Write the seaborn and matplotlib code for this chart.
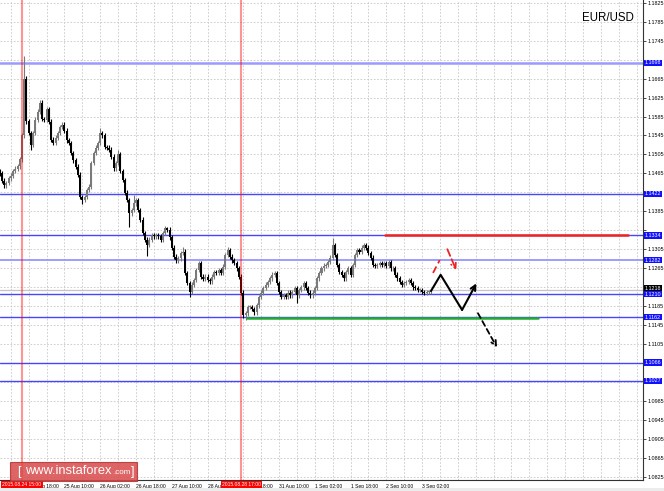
import numpy as np
import pandas as pd
import matplotlib
matplotlib.use("Agg")
import matplotlib.pyplot as plt
from matplotlib.patches import Rectangle
from matplotlib.transforms import blended_transform_factory
import seaborn as sns

# ---------------- data (hourly EUR/USD, 24 Aug 05:00 .. 3 Sep 06:00) ----------------
closes = [
    1.1465, 1.1450, 1.1440, 1.1445, 1.1455, 1.1460, 1.1470, 1.1475, 1.1480, 1.1495,
    1.1545, 1.1665, 1.1575, 1.1550, 1.1525, 1.1550, 1.1578, 1.1595, 1.1614, 1.1580,
    1.1578, 1.1600, 1.1574, 1.1536, 1.1530, 1.1540, 1.1550, 1.1563, 1.1568, 1.1555,
    1.1535, 1.1529, 1.1508, 1.1493, 1.1479, 1.1462, 1.1415, 1.1409, 1.1415, 1.1430,
    1.1437, 1.1487, 1.1508, 1.1519, 1.1529, 1.1550, 1.1545, 1.1521, 1.1519, 1.1515,
    1.1500, 1.1476, 1.1487, 1.1505, 1.1470, 1.1451, 1.1424, 1.1409, 1.1381, 1.1388,
    1.1402, 1.1409, 1.1388, 1.1367, 1.1339, 1.1325, 1.1314, 1.1325, 1.1335, 1.1332,
    1.1335, 1.1332, 1.1325, 1.1339, 1.1350, 1.1346, 1.1330, 1.1308, 1.1289, 1.1282,
    1.1286, 1.1297, 1.1300, 1.1255, 1.1234, 1.1215, 1.1230, 1.1240, 1.1261, 1.1276,
    1.1247, 1.1243, 1.1247, 1.1240, 1.1237, 1.1247, 1.1257, 1.1255, 1.1261, 1.1255,
    1.1268, 1.1293, 1.1303, 1.1289, 1.1282, 1.1276, 1.1265, 1.1247, 1.1213, 1.1166,
    1.1170, 1.1183, 1.1183, 1.1179, 1.1172, 1.1187, 1.1204, 1.1213, 1.1223, 1.1230,
    1.1236, 1.1244, 1.1251, 1.1255, 1.1234, 1.1215, 1.1204, 1.1208, 1.1204, 1.1213,
    1.1208, 1.1215, 1.1223, 1.1208, 1.1219, 1.1225, 1.1234, 1.1223, 1.1213, 1.1208,
    1.1213, 1.1223, 1.1244, 1.1255, 1.1265, 1.1270, 1.1272, 1.1278, 1.1287, 1.1314,
    1.1293, 1.1272, 1.1257, 1.1251, 1.1244, 1.1257, 1.1265, 1.1251, 1.1272, 1.1293,
    1.1303, 1.1300, 1.1308, 1.1314, 1.1308, 1.1297, 1.1287, 1.1272, 1.1270, 1.1272,
    1.1276, 1.1272, 1.1276, 1.1270, 1.1278, 1.1265, 1.1265, 1.1251, 1.1244, 1.1236,
    1.1230, 1.1234, 1.1236, 1.1240, 1.1234, 1.1225, 1.1223, 1.1219, 1.1219, 1.1215,
    1.1213, 1.1215, 1.1215, 1.1217,
]
first_open = 1.1470
high_marks = {11: 1.1712, 18: 1.1620, 45: 1.1560, 53: 1.1514, 60: 1.1420, 75: 1.1352,
              82: 1.1310, 89: 1.1280, 102: 1.1310, 123: 1.1260, 149: 1.1329, 163: 1.1318}
low_marks = {14: 1.1515, 37: 1.1400, 58: 1.1352, 66: 1.1290, 85: 1.1205, 109: 1.1160,
             110: 1.1156, 133: 1.1192}
default_wick = 0.0005

levels = [1.1698, 1.1422, 1.1334, 1.1282, 1.1210, 1.1162, 1.1066, 1.1027]
level_styles = {1.1698: ("#9a9aff", 1.8), 1.1282: ("#8c8cff", 1.2)}
bid_price = 1.1218

x_tick_bars = [13, 29, 45, 61, 77, 93, 109, 125, 141, 157, 173, 189]
x_tick_text = ["24 Aug 18:00", "25 Aug 10:00", "26 Aug 02:00", "26 Aug 18:00",
               "27 Aug 10:00", "28 Aug 02:00", "28 Aug 18:00", "31 Aug 10:00",
               "1 Sep 02:00", "1 Sep 18:00", "2 Sep 10:00", "3 Sep 02:00"]
vline_bars = [10, 108]
vline_text = ["2015.08.24 15:00", "2015.08.28 17:00"]

resistance = {"x": [172.4, 281.0], "y": 1.1334}
support = {"x": [110.7, 240.9], "y": 1.1160}
black_path_x = [193.0, 197.3, 206.9]
black_path_y = [1.1217, 1.1251, 1.1177]
black_arrow_end = (213.3, 1.1233)
black_dash_start = (214.0, 1.1170)
black_dash_end = (222.5, 1.1098)
red_seg_x = [193.9, 196.9]
red_seg_y = [1.1255, 1.1282]
red_arrow_start = (200.3, 1.1305)
red_arrow_end = (204.3, 1.1261)

# ---------------- table ----------------
n = len(closes)
df = pd.DataFrame({"bar": np.arange(n), "close": closes})
df["open"] = [first_open] + closes[:-1]
df["top"] = df[["open", "close"]].max(axis=1)
df["bot"] = df[["open", "close"]].min(axis=1)
df["high"] = [high_marks.get(i, t + default_wick) for i, t in enumerate(df["top"])]
df["low"] = [low_marks.get(i, b - default_wick) for i, b in enumerate(df["bot"])]
df["bull"] = df["close"] >= df["open"]

# ---------------- figure ----------------
sns.set_style("white")
plt.rcParams["font.family"] = ["Liberation Sans", "DejaVu Sans"]
W, H = 664, 491
fig = plt.figure(figsize=(W / 100, H / 100), dpi=100)
fig.patch.set_facecolor("white")
ax = fig.add_axes([0, 11 / H, 643 / W, 480 / H])
ax.set_xlim(0.15, 287.85)
ax.set_ylim(1.08181, 1.18309)

# grid
yticks = np.round(np.arange(1.0825, 1.18251, 0.004), 4)
for yv in yticks:
    ax.axhline(yv, color="#c8c8c8", lw=0.6, ls=(0, (2, 2)), zorder=0)
for xv in range(5, 288, 8):
    ax.axvline(xv, color="#c8c8c8", lw=0.6, ls=(0, (2, 2)), zorder=0)

# levels
for lv in levels:
    col, lw = level_styles.get(lv, ("#4646ff", 1.0))
    ax.axhline(lv, color=col, lw=lw, zorder=1)
ax.axhline(bid_price, color="#c4c4c4", lw=0.9, zorder=1)

# support / resistance segments
sns.lineplot(x=resistance["x"], y=[resistance["y"]] * 2, ax=ax, color="#ee2222", lw=1.8, zorder=4)
sns.lineplot(x=support["x"], y=[support["y"]] * 2, ax=ax, color="#22aa33", lw=1.8, zorder=4)

# candles
colors = np.where(df["bull"], "#7a7a7a", "#000000")
ax.vlines(df["bar"], df["low"], df["high"], colors=colors, lw=0.8, zorder=3)
ax.bar(df["bar"], (df["top"] - df["bot"]).clip(lower=0.00012), bottom=df["bot"],
       width=0.9, color=colors, linewidth=0, zorder=3)

# red vertical lines (drawn over candles)
for b in vline_bars:
    ax.axvline(b, color="#ff0000", alpha=0.42, lw=1.5, zorder=5)

# forecast arrows
sns.lineplot(x=black_path_x, y=black_path_y, ax=ax, sort=False, color="black", lw=1.5, zorder=6)
ax.annotate("", xy=black_arrow_end, xytext=(black_path_x[-1], black_path_y[-1]),
            arrowprops=dict(arrowstyle="->", color="black", lw=1.5, shrinkA=0, shrinkB=0,
                            mutation_scale=9), zorder=6)
ax.annotate("", xy=black_dash_end, xytext=black_dash_start,
            arrowprops=dict(arrowstyle="->", color="black", lw=1.3, ls=(0, (3, 2)),
                            shrinkA=0, shrinkB=0, mutation_scale=9), zorder=6)
ax.plot(red_seg_x, red_seg_y, color="#ee2222", lw=1.3, ls=(0, (4, 2)), zorder=6)
ax.annotate("", xy=red_arrow_end, xytext=red_arrow_start,
            arrowprops=dict(arrowstyle="->", color="#ee2222", lw=1.3, ls=(0, (4, 2)),
                            shrinkA=0, shrinkB=0, mutation_scale=9), zorder=6)

# axes styling
for s in ["top", "left"]:
    ax.spines[s].set_visible(False)
for s in ["right", "bottom"]:
    ax.spines[s].set_color("#333333")
    ax.spines[s].set_linewidth(0.8)
ax.yaxis.tick_right()
ax.set_yticks(yticks)
# tick labels hidden where a level box covers them (as on the reference)
covered = [any(abs(v - lv) < 0.0012 for lv in levels + [bid_price]) for v in yticks]
ax.set_yticklabels(["" if c else f"{v:.4f}" for v, c in zip(yticks, covered)])
ax.tick_params(axis="y", length=2, width=0.5, pad=1.0, labelsize=3.9, colors="black")
ax.set_xticks(x_tick_bars)
ax.set_xticklabels(x_tick_text)
ax.tick_params(axis="x", length=2, width=0.5, pad=0.8, labelsize=3.6, colors="black")
for lbl in ax.get_xticklabels():
    lbl.set_ha("left")
ax.set_xlabel("")
ax.set_ylabel("")

# price-level labels on axis
tr = blended_transform_factory(ax.transAxes, ax.transData)
for lv in levels:
    ax.text(1.003, lv, f"{lv:.4f}", transform=tr, ha="left", va="center", fontsize=3.9,
            color="white", zorder=10, clip_on=False,
            bbox=dict(boxstyle="square,pad=0.12", fc="#1010ff", ec="none"))
ax.text(1.003, bid_price + 0.0005, f"{bid_price:.4f}", transform=tr, ha="left", va="center",
        fontsize=3.9, color="white", zorder=11, clip_on=False,
        bbox=dict(boxstyle="square,pad=0.12", fc="black", ec="none"))

# red time-stamp boxes on x axis
trx = blended_transform_factory(ax.transData, ax.transAxes)
for b, t in zip(vline_bars, vline_text):
    ax.text(b, -0.005, t, transform=trx, ha="center", va="top", fontsize=3.6, color="white",
            zorder=12, clip_on=False,
            bbox=dict(boxstyle="square,pad=0.2", fc="#ff0000", ec="none"))

# symbol
fig.text(634 / W, 1 - 18 / H, "EUR/USD", ha="right", va="center", fontsize=8.3, color="black")

# watermark
fig.patches.append(Rectangle((10 / W, 1 - 481 / H), 127 / W, 19 / H, transform=fig.transFigure,
                             fc="#d94a4a", ec="#b83030", lw=0.8, alpha=0.85, zorder=20))
fig.text(17 / W, 1 - 471.5 / H, "[", ha="left", va="center", fontsize=9, color="white", zorder=21)
fig.text(25 / W, 1 - 471.5 / H, "www.instaforex", ha="left", va="center", fontsize=9.3,
         color="white", zorder=21)
fig.text(113 / W, 1 - 472.5 / H, ".com", ha="left", va="center", fontsize=5.8, color="white", zorder=21)
fig.text(130.5 / W, 1 - 471.5 / H, "]", ha="left", va="center", fontsize=9, color="white", zorder=21)

# bottom strip
fig.patches.append(Rectangle((0, 0), 1, 3 / H, transform=fig.transFigure, fc="#ececec",
                             ec="none", zorder=0))

fig.savefig("out.png", dpi=100)
